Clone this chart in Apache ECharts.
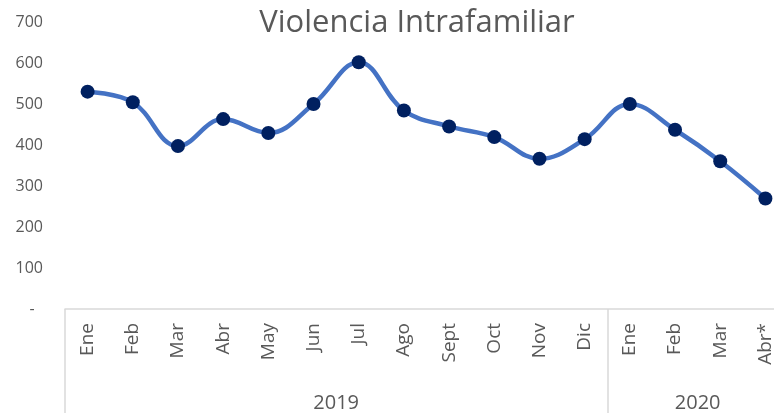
<!DOCTYPE html>
<html>
<head>
<meta charset="utf-8">
<script src="https://cdn.jsdelivr.net/npm/echarts@6/dist/echarts.min.js"></script>
<style>
  html, body { margin: 0; padding: 0; background: #fff; overflow: hidden; }
  /* the plot runs past the right edge in the original, so the canvas is wider than the window */
  #chart { width: 800px; height: 413px; }
</style>
</head>
<body>
<div id="chart"></div>
<script>
// categorías (meses) y años
var months = ["Ene", "Feb", "Mar", "Abr", "May", "Jun", "Jul", "Ago", "Sept", "Oct", "Nov", "Dic",
              "Ene", "Feb", "Mar", "Abr*"];
var years = ["2019", "2020"];
var monthsPerYear = [12, 4];
// casos de violencia intrafamiliar
var casos = [531, 505, 398, 464, 430, 501, 603, 485, 446, 420, 367, 415,
             501, 438, 361, 270];

var textColor = "#595959";
var font = "Open Sans";

// limites y centros de cada año (en unidades de categoria)
var bounds = [0], centers = [];
monthsPerYear.forEach(function (n, i) {
  var start = bounds[bounds.length - 1];
  bounds.push(start + n);
  centers.push(start + n / 2);
});

var chart = echarts.init(document.getElementById("chart"));
chart.setOption({
  animation: false,
  title: {
    text: "Violencia Intrafamiliar",
    left: 412,
    top: 3,
    textAlign: "center",
    textStyle: { color: textColor, fontFamily: font, fontSize: 31, fontWeight: "normal" }
  },
  grid: { left: 65, top: 22.5, bottom: 103, width: 723, containLabel: false },
  xAxis: [
    {
      type: "category",
      data: months,
      boundaryGap: true,
      axisLine: { lineStyle: { color: "#d9d9d9", width: 1.5 } },
      axisTick: { show: false },
      axisLabel: {
        rotate: 90,
        margin: 14,
        interval: 0,
        color: textColor,
        fontFamily: font,
        fontSize: 19
      }
    },
    {
      type: "value",
      min: 0,
      max: months.length,
      position: "bottom",
      axisLine: { show: false },
      splitLine: { show: false },
      axisTick: {
        show: true,
        customValues: bounds,
        length: 110,
        lineStyle: { color: "#d9d9d9", width: 1.5 }
      },
      axisLabel: {
        customValues: centers,
        margin: 84,
        color: textColor,
        fontFamily: font,
        fontSize: 20,
        formatter: function (v) {
          var i = centers.indexOf(v);
          return i >= 0 ? years[i] : "";
        }
      }
    }
  ],
  yAxis: {
    type: "value",
    min: 0,
    max: 700,
    interval: 100,
    axisLine: { show: false },
    axisTick: { show: false },
    splitLine: { show: false },
    axisLabel: {
      margin: 22,
      color: textColor,
      fontFamily: font,
      fontSize: 16,
      formatter: function (v) { return v === 0 ? "-  " : String(v); }
    }
  },
  series: [
    {
      type: "line",
      data: casos,
      smooth: 0.4,
      symbol: "circle",
      symbolSize: 14,
      lineStyle: { color: "#4472C4", width: 4.5 },
      itemStyle: { color: "#002060" }
    }
  ]
});
</script>
</body>
</html>
